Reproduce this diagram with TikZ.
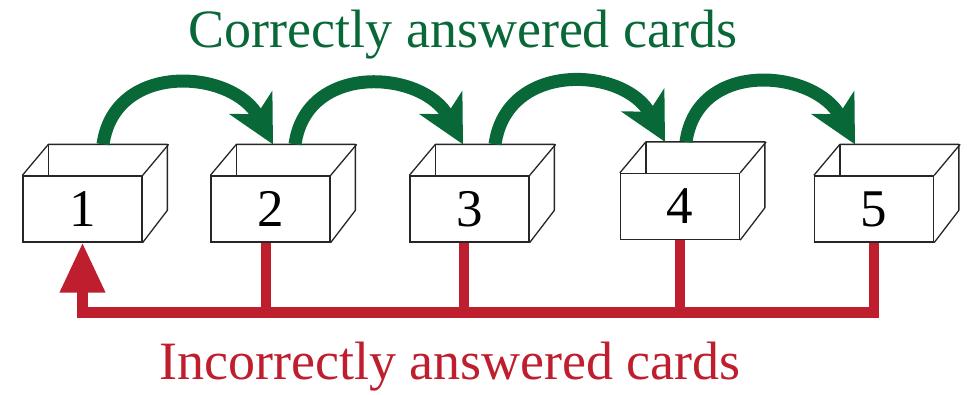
\documentclass[tikz,border=0pt]{standalone}
\usepackage{fontspec}
\setmainfont{Liberation Serif}
\usetikzlibrary{arrows.meta,calc}

\definecolor{rightgreen}{RGB}{8,104,56}
\definecolor{wrongred}{RGB}{190,30,45}

\tikzset{
  cardbox/.style={draw=black!85, line width=1.3pt, fill=white,
    minimum width=119pt, minimum height=66pt, inner sep=0pt,
    font=\fontsize{53}{60}\selectfont},
  boxedge/.style={draw=black!85, line width=1.3pt, line join=round},
  correct/.style={draw=rightgreen, line width=13pt,
    -{Stealth[length=47pt, width=48pt, inset=13pt]}},
  incorrect/.style={draw=wrongred, line width=10.5pt, line join=miter},
  caption/.style={font=\fontsize{54}{60}\selectfont, anchor=base, inner sep=0pt}
}

\begin{document}
\begin{tikzpicture}[x=1pt, y=1pt]
  \useasboundingbox (0,0) rectangle (967,-394);

  % front faces of the five boxes
  \node[cardbox] (b1) at (82.5,-209) {1};
  \node[cardbox] (b2) at (270.5,-209) {2};
  \node[cardbox] (b3) at (469.5,-209) {3};
  \node[cardbox] (b4) at (680,-206.5) {4};
  \node[cardbox] (b5) at (874,-209) {5};

  % open top and right side of each box
  \foreach \b in {b1,b2,b3,b4,b5}{
    \draw[boxedge] (\b.north west) -- ++(26,31) -- ++(119,0) -- ++(0,-66) -- (\b.south east);
    \draw[boxedge] (\b.north east) -- ++(26,31);
    \draw[boxedge] (\b.north west) ++(26,31) -- ++(0,-31);
  }

  % points on the back rims where the green arrows leave and land
  \coordinate (o1) at ($(b1.north)+(20.5,31)$);
  \coordinate (i2) at ($(b2.north)+(2.5,31)$);
  \coordinate (o2) at ($(b2.north)+(24.5,31)$);
  \coordinate (i3) at ($(b3.north)+(-6.5,31)$);
  \coordinate (o3) at ($(b3.north)+(25.5,31)$);
  \coordinate (i4) at ($(b4.north)+(-15,31)$);
  \coordinate (o4) at ($(b4.north)+(6,31)$);
  \coordinate (i5) at ($(b5.north)+(-19,31)$);

  % correctly answered: move one box to the right
  \draw[correct] (o1) to[out=82, in=118, looseness=1.28] (i2);
  \draw[correct] (o2) to[out=82, in=118, looseness=1.28] (i3);
  \draw[correct] (o3) to[out=82, in=118, looseness=1.28] (i4);
  \draw[correct] (o4) to[out=82, in=118, looseness=1.28] (i5);

  % incorrectly answered: back to box 1
  \coordinate (rail) at (0,-312.5);
  \draw[incorrect, -{Triangle[length=50pt, width=43pt]}]
    (b5.south) |- (b1.south |- rail) -- (b1.south);
  \draw[incorrect] ([xshift=-4.5pt]b2.south) -- ([xshift=-4.5pt]b2.south |- rail);
  \draw[incorrect] ([xshift=-5.5pt]b3.south) -- ([xshift=-5.5pt]b3.south |- rail);
  \draw[incorrect] (b4.south) -- (b4.south |- rail);

  % captions
  \node[caption, text=rightgreen] (top) at (463,-47) {Correctly answered cards};
  \node[caption, text=wrongred] (bottom) at (450,-379) {Incorrectly answered cards};
\end{tikzpicture}
\end{document}
